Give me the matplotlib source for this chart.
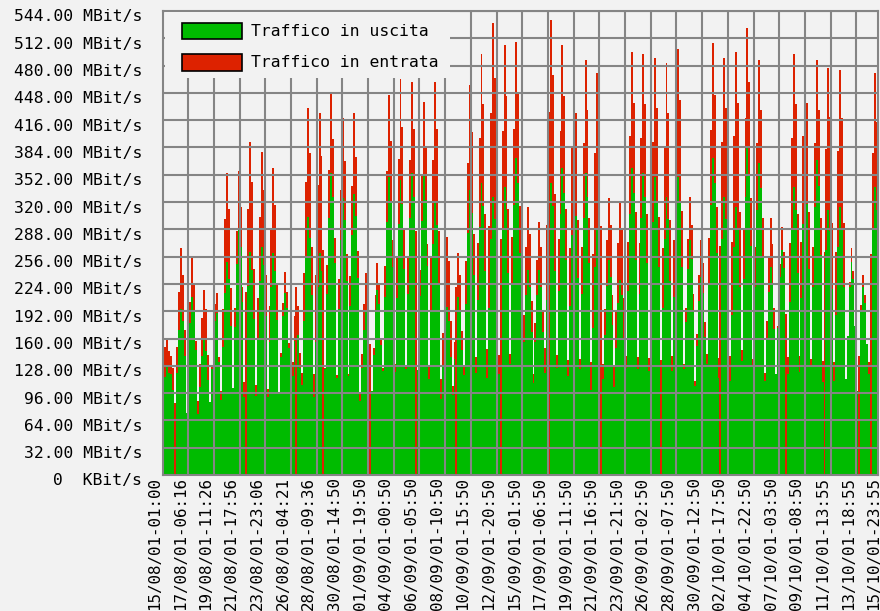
import matplotlib
matplotlib.use('Agg')
import matplotlib.pyplot as plt
from matplotlib.patches import Rectangle
from matplotlib.transforms import ScaledTranslation, blended_transform_factory
import numpy as np

# traffic samples in MBit/s, one every 4 hours starting 15/08/01 00:00 (six per day)
traffic_in = [  # "Traffico in entrata" (red)
    80, 150, 160, 145, 140, 125,    # 15/08
    85, 150, 215, 266, 235, 170,    # 16/08
    72, 140, 203, 254, 224, 157,    # 17/08
    87, 130, 184, 217, 195, 141,    # 18/08
    85, 128, 181, 200, 213, 138,    # 19/08
    99, 195, 300, 354, 312, 219,    # 20/08
    100, 196, 286, 357, 314, 221,   # 21/08
    109, 215, 312, 390, 343, 242,   # 22/08
    106, 208, 303, 379, 334, 235,   # 23/08
    101, 198, 288, 360, 317, 223,   # 24/08
    95, 143, 202, 238, 214, 155,    # 25/08
    88, 132, 187, 220, 198, 143,    # 26/08
    120, 237, 344, 430, 378, 267,   # 27/08
    119, 234, 340, 425, 374, 264,   # 28/08
    125, 246, 358, 448, 394, 278,   # 29/08
    117, 230, 334, 418, 368, 259,   # 30/08
    119, 233, 339, 424, 373, 263,   # 31/08
    95, 142, 201, 237, 213, 154,    # 01/09
    99, 149, 211, 248, 223, 161,    # 02/09
    125, 245, 356, 445, 392, 276,   # 03/09
    130, 255, 371, 464, 408, 288,   # 04/09
    129, 254, 369, 461, 406, 286,   # 05/09
    122, 240, 350, 437, 385, 271,   # 06/09
    129, 254, 369, 461, 406, 286,   # 07/09
    112, 167, 237, 279, 251, 181,   # 08/09
    104, 156, 221, 260, 234, 169,   # 09/09
    128, 251, 366, 457, 402, 283,   # 10/09
    138, 272, 395, 494, 435, 306,   # 11/09
    148, 292, 424, 530, 466, 329,   # 12/09
    141, 277, 403, 504, 444, 312,   # 13/09
    142, 279, 406, 508, 447, 315,   # 14/09
    126, 188, 267, 314, 283, 204,   # 15/09
    119, 178, 252, 297, 267, 193,   # 16/09
    149, 293, 426, 533, 469, 330,   # 17/09
    141, 277, 403, 504, 444, 312,   # 18/09
    135, 266, 386, 483, 425, 299,   # 19/09
    136, 267, 389, 486, 428, 301,   # 20/09
    132, 259, 377, 471, 414, 292,   # 21/09
    130, 195, 276, 325, 293, 211,   # 22/09
    128, 192, 272, 320, 288, 208,   # 23/09
    139, 273, 397, 496, 436, 308,   # 24/09
    138, 272, 395, 494, 435, 306,   # 25/09
    137, 269, 391, 489, 430, 303,   # 26/09
    135, 266, 386, 483, 425, 299,   # 27/09
    140, 275, 400, 500, 440, 310,   # 28/09
    130, 196, 277, 326, 293, 212,   # 29/09
    110, 165, 234, 275, 248, 179,   # 30/09
    142, 278, 405, 506, 445, 314,   # 01/10
    137, 269, 391, 489, 430, 303,   # 02/10
    139, 273, 397, 496, 436, 308,   # 03/10
    147, 288, 419, 524, 461, 325,   # 04/10
    136, 267, 389, 486, 428, 301,   # 05/10
    120, 181, 256, 301, 271, 196,   # 06/10
    116, 175, 247, 291, 262, 189,   # 07/10
    138, 272, 395, 494, 435, 306,   # 08/10
    139, 273, 397, 496, 436, 308,   # 09/10
    136, 267, 389, 486, 428, 301,   # 10/10
    134, 262, 382, 477, 420, 296,   # 11/10
    133, 261, 380, 475, 418, 295,   # 12/10
    106, 160, 226, 266, 239, 173,   # 13/10
    94, 140, 199, 234, 211, 152,    # 14/10
    132, 259, 377, 471, 414, 292,   # 15/10
]
traffic_out = [  # "Traffico in uscita" (green)
    60, 115, 128, 120, 118, 100,    # 15/08
    0, 120, 170, 195, 180, 140,     # 16/08
    73, 125, 178, 209, 192, 146,    # 17/08
    71, 103, 139, 158, 145, 111,    # 18/08
    86, 124, 0, 180, 190, 133,      # 19/08
    88, 150, 213, 250, 230, 175,    # 20/08
    102, 174, 247, 290, 267, 203,   # 21/08
    91, 0, 222, 261, 240, 183,      # 22/08
    93, 160, 227, 267, 246, 187,    # 23/08
    91, 156, 221, 260, 239, 182,    # 24/08
    96, 138, 187, 213, 196, 149,    # 25/08
    80, 116, 157, 0, 164, 125,      # 26/08
    106, 181, 257, 302, 278, 211,   # 27/08
    91, 156, 221, 260, 239, 0,      # 28/08
    124, 212, 301, 354, 326, 248,   # 29/08
    114, 195, 276, 325, 299, 228,   # 30/08
    116, 198, 281, 330, 304, 231,   # 31/08
    87, 125, 170, 193, 178, 0,      # 01/09
    98, 141, 191, 217, 200, 152,    # 02/09
    122, 209, 297, 349, 321, 244,   # 03/09
    121, 208, 294, 346, 318, 242,   # 04/09
    124, 212, 301, 354, 326, 0,     # 05/09
    123, 210, 298, 350, 322, 245,   # 06/09
    112, 191, 271, 319, 293, 223,   # 07/09
    89, 128, 173, 197, 181, 138,    # 08/09
    94, 136, 0, 209, 192, 146,      # 09/09
    117, 200, 284, 334, 307, 234,   # 10/09
    120, 205, 291, 342, 315, 239,   # 11/09
    114, 196, 277, 326, 300, 228,   # 12/09
    118, 0, 287, 338, 311, 237,     # 13/09
    130, 223, 316, 372, 342, 260,   # 14/09
    108, 156, 211, 240, 221, 168,   # 15/09
    108, 156, 211, 240, 221, 168,   # 16/09
    120, 205, 0, 342, 315, 239,     # 17/09
    126, 216, 306, 360, 331, 252,   # 18/09
    116, 198, 281, 330, 304, 231,   # 19/09
    124, 212, 301, 354, 326, 248,   # 20/09
    100, 172, 244, 287, 264, 0,     # 21/09
    113, 164, 222, 252, 232, 176,   # 22/09
    103, 149, 202, 229, 211, 160,   # 23/09
    126, 216, 306, 360, 331, 252,   # 24/09
    124, 212, 301, 354, 326, 248,   # 25/09
    122, 209, 297, 349, 321, 244,   # 26/09
    0, 196, 277, 326, 300, 228,     # 27/09
    122, 209, 297, 349, 321, 244,   # 28/09
    124, 179, 242, 275, 253, 193,   # 29/09
    104, 151, 204, 232, 213, 162,   # 30/09
    130, 223, 316, 372, 342, 260,   # 01/10
    114, 0, 277, 326, 300, 228,     # 02/10
    110, 188, 267, 314, 289, 220,   # 03/10
    134, 230, 326, 384, 353, 269,   # 04/10
    128, 220, 311, 366, 337, 256,   # 05/10
    110, 159, 215, 244, 224, 171,   # 06/10
    119, 172, 232, 264, 243, 0,     # 07/10
    118, 203, 287, 338, 311, 237,   # 08/10
    121, 208, 294, 346, 318, 242,   # 09/10
    129, 221, 314, 369, 339, 258,   # 10/10
    109, 0, 264, 311, 286, 218,     # 11/10
    110, 188, 267, 314, 289, 220,   # 12/10
    112, 163, 220, 250, 230, 175,   # 13/10
    99, 0, 194, 220, 202, 154,      # 14/10
    118, 0, 287, 338, 311, 237,     # 15/10
]

x_tick_labels = [
    "15/08/01-01:00", "17/08/01-06:16", "19/08/01-11:26", "21/08/01-17:56",
    "23/08/01-23:06", "26/08/01-04:21", "28/08/01-09:36", "30/08/01-14:50",
    "01/09/01-19:50", "04/09/01-00:50", "06/09/01-05:50", "08/09/01-10:50",
    "10/09/01-15:50", "12/09/01-20:50", "15/09/01-01:50", "17/09/01-06:50",
    "19/09/01-11:50", "21/09/01-16:50", "23/09/01-21:50", "26/09/01-02:50",
    "28/09/01-07:50", "30/09/01-12:50", "02/10/01-17:50", "04/10/01-22:50",
    "07/10/01-03:50", "09/10/01-08:50", "11/10/01-13:55", "13/10/01-18:55",
    "15/10/01-23:55",
]
y_ticks = [0, 32, 64, 96, 128, 160, 192, 224, 256, 288, 320, 352, 384,
           416, 448, 480, 512, 544]
y_tick_labels = [
    "0  KBit/s", "32.00 MBit/s", "64.00 MBit/s", "96.00 MBit/s",
    "128.00 MBit/s", "160.00 MBit/s", "192.00 MBit/s", "224.00 MBit/s",
    "256.00 MBit/s", "288.00 MBit/s", "320.00 MBit/s", "352.00 MBit/s",
    "384.00 MBit/s", "416.00 MBit/s", "448.00 MBit/s", "480.00 MBit/s",
    "512.00 MBit/s", "544.00 MBit/s",
]
legend_labels = ["Traffico in uscita", "Traffico in entrata"]

BG = '#f2f2f2'
GREEN = '#00bb00'
RED = '#dd2200'
GRID = '#858585'
MONO = 'DejaVu Sans Mono'
FS = 11.8   # y labels and legend
FSX = 11.4  # rotated time labels

W, H = 880, 611
fig = plt.figure(figsize=(W / 100, H / 100), dpi=100, facecolor=BG)
L, R, T, B = 162.5, 878, 11, 475
ax = fig.add_axes([L / W, 1 - B / H, (R - L) / W, (B - T) / H])
ax.set_facecolor(BG)

edges = np.arange(len(traffic_in) + 1) * 4.0
ax.stairs(traffic_in, edges, fill=True, color=RED, lw=0, zorder=1)
ax.stairs(traffic_out, edges, fill=True, color=GREEN, lw=0, zorder=1.1)

hours_per_tick = 160 / 3
x_ticks = [k * hours_per_tick for k in range(len(x_tick_labels))]
ax.set_xlim(0, 1485)
ax.set_ylim(0, 544)
ax.set_xticks([])
ax.set_yticks([])

# y labels: right edge 20 px left of the plot, 6 px below their grid line
ytrans = blended_transform_factory(ax.transAxes, ax.transData) + \
    ScaledTranslation(-20.5 / 100, -6 / 100, fig.dpi_scale_trans)
for yv, lab in zip(y_ticks, y_tick_labels):
    ax.text(0, yv, lab, ha='right', va='center', family=MONO, fontsize=FS,
            transform=ytrans, clip_on=False)

# grid drawn over the traffic areas
for yv in y_ticks[1:]:
    ax.axhline(yv, color=GRID, lw=1.5, zorder=2)
for xv in x_ticks[1:]:
    if xv < 1485:
        ax.axvline(xv, color=GRID, lw=1.5, zorder=2)
for sp in ax.spines.values():
    sp.set_color(GRID)
    sp.set_linewidth(1.5)
    sp.set_zorder(3)

# rotated time labels under the axis
xtrans = blended_transform_factory(ax.transData, ax.transAxes) + \
    ScaledTranslation(-8 / 100, -1.5 / 100, fig.dpi_scale_trans)
for xv, lab in zip(x_ticks, x_tick_labels):
    ax.text(xv, 0, lab, rotation=90, ha='center', va='top',
            family=MONO, fontsize=FSX, transform=xtrans, clip_on=False)

# legend block in the upper left of the plot
fx = lambda px: px / W
fy = lambda py: 1 - py / H
fig.patches.append(Rectangle((fx(165), fy(78)), fx(450) - fx(165), fy(12) - fy(78),
                             transform=fig.transFigure, facecolor=BG, edgecolor='none',
                             zorder=5))
for i, (lab, col) in enumerate(zip(legend_labels, [GREEN, RED])):
    yc = 31 + i * 31.5
    fig.patches.append(Rectangle((fx(182), fy(yc + 8)), fx(242) - fx(182), 16 / H,
                                 transform=fig.transFigure, facecolor=col,
                                 edgecolor='black', lw=1.2, zorder=6))
    fig.text(fx(251), fy(yc), lab, family=MONO, fontsize=FS, ha='left',
             va='center', zorder=7)

fig.savefig('out.png', dpi=100, facecolor=BG)
